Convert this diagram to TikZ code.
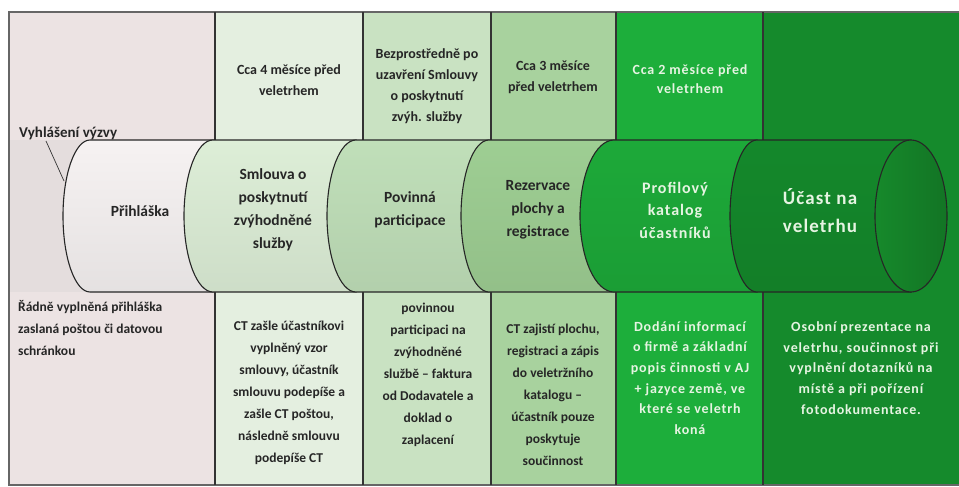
\documentclass[tikz,border=0pt]{standalone}
\usepackage{fontspec}
\setmainfont{Carlito}
\newfontfamily\wfont[LetterSpace=6]{Carlito}
\definecolor{cA}{HTML}{ECE3E3}
\definecolor{cAm}{HTML}{E4DDDD}
\definecolor{cB}{HTML}{E4EFE0}
\definecolor{cC}{HTML}{C9E2C2}
\definecolor{cD}{HTML}{A8D29E}
\definecolor{cE}{HTML}{1DAE3B}
\definecolor{cF}{HTML}{158A2C}
\definecolor{sA}{HTML}{F6F2F2}
\definecolor{sB}{HTML}{DDEED7}
\definecolor{sC}{HTML}{C0DFB9}
\definecolor{sD}{HTML}{9ECE93}
\definecolor{sE}{HTML}{1DA939}
\definecolor{sF}{HTML}{14882B}
\definecolor{sG}{HTML}{16892B}
\definecolor{dtext}{HTML}{262626}
\definecolor{wtext}{HTML}{E6F4E2}
\definecolor{frame}{HTML}{666666}
\newcommand{\cylseg}[4]{%
  \path[segline, top color=#4, middle color=#4, bottom color=#4!93!black, shading angle=0] (#1,292) arc[start angle=90,end angle=270,x radius=#3,y radius=76] -- (#2,140) -- (#2,292) -- cycle;}
\begin{document}
\begin{tikzpicture}[x=1pt,y=-1pt,
  segline/.style={draw=black!85, line width=1.1pt},
  divider/.style={draw=black!80, line width=1.1pt},
  dtop/.style={text=dtext, font=\bfseries\fontsize{14}{21}\selectfont, align=center, inner sep=0pt},
  dmid/.style={text=dtext, font=\bfseries\fontsize{15.5}{23}\selectfont, align=center, inner sep=0pt},
  dbot/.style={text=dtext, font=\bfseries\fontsize{13.5}{22}\selectfont, align=center, inner sep=0pt},
  wtop/.style={text=wtext, font=\wfont\bfseries\fontsize{14}{19.5}\selectfont, align=center, inner sep=0pt},
  wmid/.style={text=wtext, font=\wfont\bfseries\fontsize{16}{22.5}\selectfont, align=center, inner sep=0pt},
  wbig/.style={text=wtext, font=\wfont\bfseries\fontsize{19}{28}\selectfont, align=center, inner sep=0pt},
  wbot/.style={text=wtext, font=\wfont\bfseries\fontsize{14}{20.6}\selectfont, align=center, inner sep=0pt}]
\useasboundingbox (0,0) rectangle (959,487);
\fill[white] (0,0) rectangle (959,487);
% column backgrounds
\fill[cA] (9,12) rectangle (215,485);
\fill[cAm] (9,140) rectangle (120,292);
\fill[cB] (215,12) rectangle (363,485);
\fill[cC] (363,12) rectangle (491,485);
\fill[cD] (491,12) rectangle (616,485);
\fill[cE] (616,12) rectangle (763,485);
\fill[cF] (763,12) rectangle (959,485);
% frame
\draw[frame, line width=1.4pt] (959,12) -- (9,12) -- (9,485) -- (959,485);
% dividers
\foreach \x in {215,363,491,616,763} {
  \draw[divider] (\x,12) -- (\x,140);
  \draw[divider] (\x,292) -- (\x,485);
}
% cylinder segments
\cylseg{90}{213}{27}{sA}
\cylseg{213}{356}{29}{sB}
\cylseg{356}{489}{29}{sC}
\cylseg{489}{614}{28}{sD}
\cylseg{614}{757}{34}{sE}
\cylseg{757}{911}{27}{sF}
\path[segline, left color=sG, right color=sG!85!black] (911,216) ellipse[x radius=36, y radius=76];
% callout
\node[text=dtext, font=\bfseries\fontsize{15}{17}\selectfont, anchor=west, inner sep=0pt] (vyh) at (19,133) {Vyhlášení výzvy};
\coordinate (vyhs) at (46,141);
\coordinate (vyhe) at (64,181);
\draw[black!80, line width=0.7pt] (vyhs) -- (vyhe);
% top texts
\node[dtop] (t2) at (289,80) {Cca 4 měsíce před\\veletrhem};
\node[dtop] (t3) at (427,86) {Bezprostředně po\\uzavření Smlouvy\\o poskytnutí\\zvýh. služby};
\node[dtop] (t4) at (553,77) {Cca 3 měsíce\\před veletrhem};
\node[wtop] (t5) at (690,79) {Cca 2 měsíce před\\veletrhem};
% middle texts
\node[dmid] (m1) at (140,211) {Přihláška};
\node[dmid] (m2) at (273,210) {Smlouva o\\poskytnutí\\zvýhodněné\\služby};
\node[dmid] (m3) at (410,210) {Povinná\\participace};
\node[dmid] (m4) at (538,210) {Rezervace\\plochy a\\registrace};
\node[wmid] (m5) at (675,210) {Profilový\\katalog\\účastníků};
\node[wbig] (m6) at (820,211) {Účast na\\veletrhu};
% bottom texts
\node[dbot, align=left, anchor=west] (b1) at (18,328) {Řádně vyplněná přihláška\\zaslaná poštou či datovou\\schránkou};
\node[dbot] (b2) at (289,393) {CT zašle účastníkovi\\vyplněný vzor\\smlouvy, účastník\\smlouvu podepíše a\\zašle CT poštou,\\následně smlouvu\\podepíše CT};
\node[dbot] (b3) at (428,375) {povinnou\\participaci na\\zvýhodněné\\službě -- faktura\\od Dodavatele a\\doklad o\\zaplacení};
\node[dbot] (b4) at (553,395) {CT zajistí plochu,\\registraci a zápis\\do veletržního\\katalogu --\\účastník pouze\\poskytuje\\součinnost};
\node[wbot] (b5) at (690,378) {Dodání informací\\o firmě a základní\\popis činnosti v AJ\\+ jazyce země, ve\\které se veletrh\\koná};
\node[wbot] (b6) at (861,368) {Osobní prezentace na\\veletrhu, součinnost při\\vyplnění dotazníků na\\místě a při pořízení\\fotodokumentace.};
\end{tikzpicture}
\end{document}
